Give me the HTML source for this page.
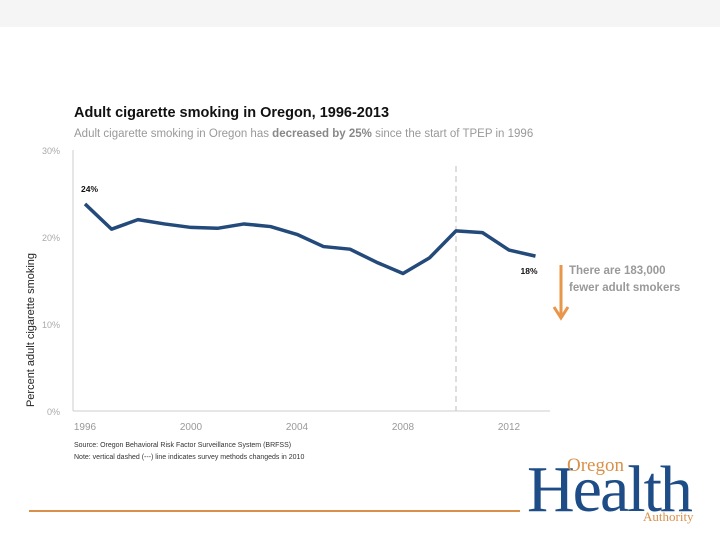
<!DOCTYPE html>
<html><head><meta charset="utf-8"><style>
body{margin:0;width:720px;height:540px;background:#fff;position:relative;overflow:hidden;font-family:"Liberation Sans",sans-serif}
.t{position:absolute;white-space:nowrap}
</style></head><body>
<div style="position:absolute;left:0;top:0;width:720px;height:27px;background:#f5f5f5"></div>
<div class="t" style="left:74px;top:105px;font-size:14.5px;font-weight:bold;color:#111">Adult cigarette smoking in Oregon, 1996-2013</div>
<div class="t" style="left:74px;top:128px;font-size:11.5px;color:#999">Adult cigarette smoking in Oregon has <b style="color:#888">decreased by 25%</b> since the start of TPEP in 1996</div>
<svg id="c" width="720" height="540" style="position:absolute;left:0;top:0"></svg>
<div class="t" style="left:569px;top:263px;font-size:11.5px;font-weight:bold;color:#999;line-height:17px">There are 183,000<br>fewer adult smokers</div>
<div class="t" style="left:74px;top:440px;font-size:7px;color:#333;line-height:12px">Source: Oregon Behavioral Risk Factor Surveillance System (BRFSS)<br>Note: vertical dashed (---) line indicates survey methods changeds in 2010</div>
<div style="position:absolute;left:29px;top:510px;width:491px;height:2px;background:#d9904a"></div>
<div style="position:absolute;left:525px;top:452px;width:180px;height:80px">
 <div class="t" style="left:2px;top:0px;font-family:'Liberation Serif',serif;font-size:66px;color:#1d4c86;letter-spacing:-2px">Health</div>
 <div class="t" style="left:42px;top:3px;font-family:'Liberation Serif',serif;font-size:19px;color:#d9904a">Oregon</div>
 <div class="t" style="left:118px;top:57px;font-family:'Liberation Serif',serif;font-size:13px;color:#d9904a">Authority</div>
</div>
<script>
const years=[1996,1997,1998,1999,2000,2001,2002,2003,2004,2005,2006,2007,2008,2009,2010,2011,2012,2013];
const values=[23.8,20.9,22.0,21.5,21.1,21.0,21.5,21.2,20.3,18.9,18.6,17.1,15.8,17.6,20.7,20.5,18.5,17.8];
const yTicks=[0,10,20,30];
const xTicks=[1996,2000,2004,2008,2012];
const methodChangeYear=2010;
const NS='http://www.w3.org/2000/svg',svg=document.getElementById('c');
const X=y=>85+(y-1996)*26.5, Y=v=>411-v*(261/30);
function el(t,a){const e=document.createElementNS(NS,t);for(const k in a)e.setAttribute(k,a[k]);svg.appendChild(e);return e;}
let e;
e=el('line',{x1:73,y1:150,x2:73,y2:411,stroke:'#ccc','stroke-width':1});


e=el('line',{x1:73,y1:411,x2:550,y2:411,stroke:'#ccc','stroke-width':1});


yTicks.forEach(v=>{const t=el('text',{x:60,y:Y(v)+4,'text-anchor':'end','font-size':9,fill:'#aaa','font-family':'Liberation Sans'});t.textContent=v+'%';

});
xTicks.forEach(v=>{const t=el('text',{x:X(v),y:430,'text-anchor':'middle','font-size':10,fill:'#999','font-family':'Liberation Sans'});t.textContent=v;

});
e=el('line',{x1:X(methodChangeYear),y1:166,x2:X(methodChangeYear),y2:411,stroke:'#ccc','stroke-width':1.3,'stroke-dasharray':'6,4'});


e=el('polyline',{points:years.map((y,i)=>X(y)+','+Y(values[i])).join(' '),fill:'none',stroke:'#234a7a','stroke-width':3.5,'stroke-linejoin':'round'});


e=el('text',{x:X(years[0])-4,y:Y(values[0])-12,'font-size':8.5,'font-weight':'bold',fill:'#111','font-family':'Liberation Sans'});e.textContent=Math.round(values[0])+'%';


const last=values.length-1;
e=el('text',{x:X(years[last])+2,y:Y(values[last])+18,'font-size':8.5,'font-weight':'bold','text-anchor':'end',fill:'#111','font-family':'Liberation Sans'});e.textContent=Math.round(values[last])+'%';


e=el('line',{x1:561,y1:265,x2:561,y2:315,stroke:'#e8964a','stroke-width':3});


e=el('polyline',{points:'554,307 561,318 568,307',fill:'none',stroke:'#e8964a','stroke-width':3});


e=el('text',{x:0,y:0,'font-size':11,fill:'#222','text-anchor':'middle','font-family':'Liberation Sans',transform:'translate(34,330) rotate(-90)'});e.textContent='Percent adult cigarette smoking';


</script>
</body></html>
